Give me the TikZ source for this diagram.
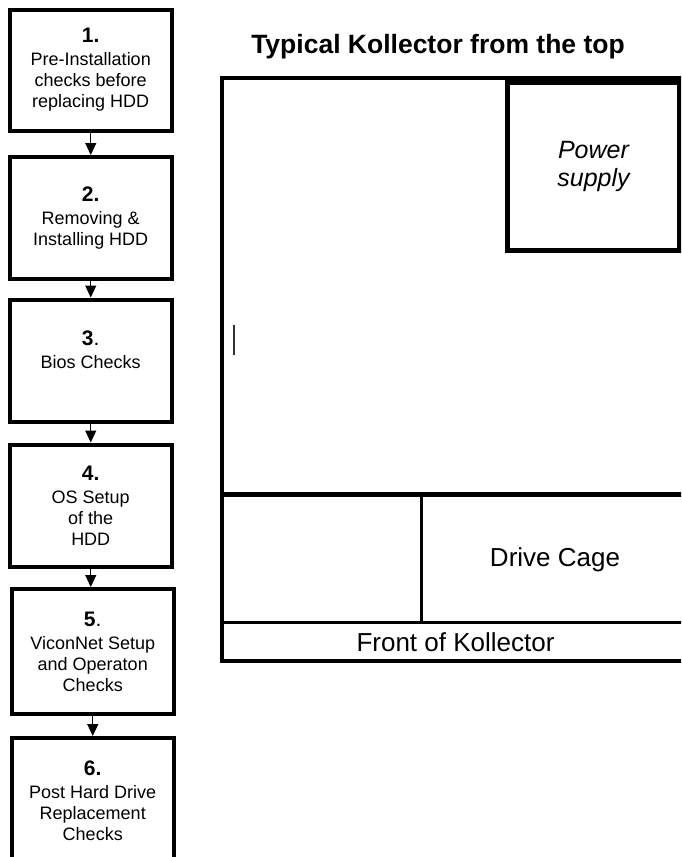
\documentclass[tikz,border=0pt]{standalone}
\usepackage{fontspec}
\setmainfont{Liberation Sans}
\usepackage{tikz}
\usetikzlibrary{positioning,arrows.meta}

\newcommand{\stepnum}[1]{{\fontsize{21}{23}\selectfont\bfseries #1}}

\begin{document}
\begin{tikzpicture}[
  x=1pt, y=-1pt,
  font=\fontsize{18}{21}\selectfont,
  stepbox/.style={draw, line width=4pt, align=center, minimum width=162.5pt, minimum height=122pt, inner sep=0pt},
  frame/.style={line width=4.5pt},
  arr/.style={-{Triangle[length=12pt,width=11pt]}, line width=1pt}]
\useasboundingbox (0,0) rectangle (681,857);
\clip (0,0) rectangle (681,857);
% steps
\node[stepbox, minimum height=121pt] (chk) at (90.75,70) {\stepnum{1.}\\[2pt] Pre-Installation\\ checks before\\ replacing HDD};
\node[stepbox, below=22.5pt of chk] (hdd) {\stepnum{2.}\\[2pt] Removing \&\\ Installing HDD};
\node[stepbox, below=16.5pt of hdd] (bios) {\stepnum{3}{\fontsize{21}{23}\selectfont .}\\[2pt] Bios Checks\\ \mbox{}};
\node[stepbox, below=19pt of bios] (os) {\stepnum{4.}\\[2pt] OS Setup\\ of the\\ HDD};
\node[stepbox, minimum height=125pt, below=18.5pt of os, xshift=2pt] (vnet) {\stepnum{5}{\fontsize{21}{23}\selectfont .}\\[2pt] ViconNet Setup\\ and Operaton\\ Checks};
\node[stepbox, minimum height=125pt, below=20pt of vnet] (post) {\stepnum{6.}\\[2pt] Post Hard Drive\\ Replacement\\ Checks};
\draw[arr] (chk.south) -- (chk.south |- hdd.north);
\draw[arr] (hdd.south) -- (hdd.south |- bios.north);
\draw[arr] (bios.south) -- (bios.south |- os.north);
\draw[arr] (os.south) -- (os.south |- vnet.north);
\draw[arr] (vnet.south) -- (vnet.south |- post.north);
% kollector
\node[font=\fontsize{26.5}{30}\selectfont\bfseries, anchor=base] (title) at (438,53.3) {Typical Kollector from the top};
\draw[frame] (222,78) rectangle (689,660.8);
\node[draw, line width=5pt, minimum width=172pt, minimum height=168pt, align=center, font=\fontsize{25}{28}\selectfont\itshape] (psu) at (593.5,166) {Power\\ supply};
\draw[line width=5pt] (222,494) -- (689,494);
\draw[line width=3pt] (222,622.7) -- (689,622.7);
\draw[line width=3pt] (421.3,494) -- (421.3,622.7);
\node[font=\fontsize{26}{30}\selectfont] (cage) at (555,560) {Drive Cage};
\node[font=\fontsize{26}{30}\selectfont] (front) at (455.5,641.8) {Front of Kollector};
\draw[black!80, line width=1.5pt] (234,325) -- (234,355);
\end{tikzpicture}
\end{document}
